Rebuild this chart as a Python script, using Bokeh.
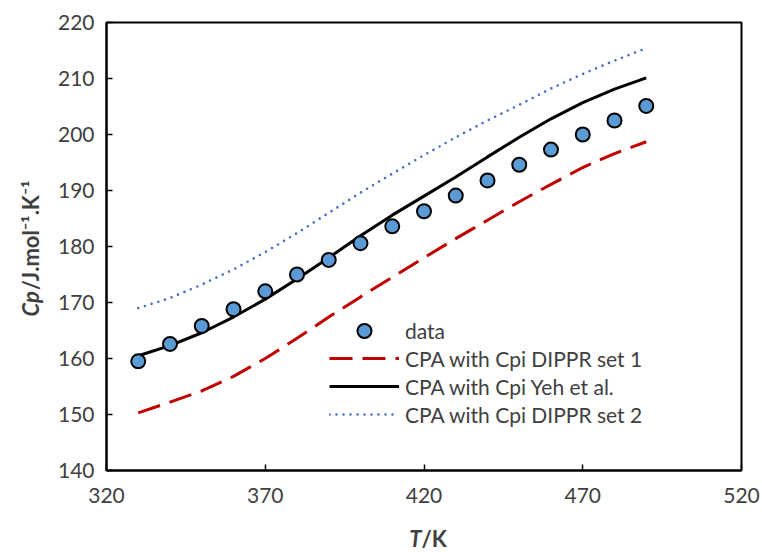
import math
from bokeh.plotting import figure
from bokeh.models import Legend, LegendItem, Label, FixedTicker, Range1d
from bokeh.embed import file_html
from bokeh.resources import INLINE

# Temperatures (K)
T_data = [330, 340, 350, 360, 370, 380, 390, 400, 410, 420, 430, 440, 450, 460, 470, 480, 490]
# Experimental heat capacity (J/mol/K)
cp_data = [159.5, 162.6, 165.8, 168.8, 172.0, 175.0, 177.6, 180.6, 183.6, 186.3,
           189.1, 191.8, 194.6, 197.3, 200.0, 202.5, 205.1]

T_model = [330, 340, 350, 360, 370, 380, 390, 400, 410, 420, 430, 440, 450, 460, 470, 480, 490]
cp_dippr1 = [150.3, 152.2, 154.2, 156.8, 160.0, 163.6, 167.4, 171.0, 174.5, 178.0,
             181.4, 184.7, 188.0, 191.1, 194.1, 196.6, 198.7]
cp_yeh = [160.5, 162.3, 164.6, 167.4, 170.6, 174.2, 178.0, 181.9, 185.6, 189.0,
          192.4, 196.0, 199.5, 202.8, 205.7, 208.1, 210.1]
cp_dippr2 = [169.0, 170.8, 173.2, 175.9, 179.0, 182.4, 186.0, 189.6, 193.0, 196.3,
             199.5, 202.5, 205.3, 208.2, 210.8, 213.2, 215.4]

x_ticks = [320, 370, 420, 470, 520]
y_ticks = [140, 150, 160, 170, 180, 190, 200, 210, 220]

FONT = "Lato"
GREY = "#404040"

p = figure(frame_width=635, frame_height=448,
           min_border_left=105, min_border_right=22, min_border_top=22, min_border_bottom=82,
           x_range=Range1d(320, 520), y_range=Range1d(140, 220),
           output_backend="svg", toolbar_location=None, tools="")

p.background_fill_color = "white"
p.border_fill_color = "white"
p.xgrid.visible = False
p.ygrid.visible = False
p.outline_line_color = "black"
p.outline_line_width = 2
p.outline_line_alpha = 1

for ax in (p.xaxis[0], p.yaxis[0]):
    ax.axis_line_color = "black"
    ax.axis_line_width = 2
    ax.major_tick_in = 6
    ax.major_tick_out = 0
    ax.major_tick_line_color = "black"
    ax.major_tick_line_width = 1.5
    ax.minor_tick_line_color = None
    ax.major_label_text_font = FONT
    ax.major_label_text_font_size = "21px"
    ax.major_label_text_color = GREY

p.xaxis.ticker = FixedTicker(ticks=x_ticks)
p.yaxis.ticker = FixedTicker(ticks=y_ticks)
p.xaxis.major_label_standoff = 17
p.yaxis.major_label_standoff = 12

r_red = p.line(T_model, cp_dippr1, line_color="#C00000", line_width=3, line_dash="23 10")
r_black = p.line(T_model, cp_yeh, line_color="black", line_width=3)
r_blue = p.line(T_model, cp_dippr2, line_color="#4472C4", line_width=2.6,
                line_dash="0 7", line_cap="round")
r_pts = p.scatter(T_data, cp_data, size=14, fill_color="#5B9BD5",
                  line_color="black", line_width=2)


def make_legend(items, loc, row_h):
    lg = Legend(items=items, location=loc)
    lg.border_line_color = None
    lg.background_fill_alpha = 0
    lg.padding = 0
    lg.margin = 0
    lg.spacing = 0
    lg.glyph_width = 70
    lg.glyph_height = row_h
    lg.label_height = row_h
    lg.label_standoff = 6
    lg.label_text_font = FONT
    lg.label_text_font_size = "21px"
    lg.label_text_color = GREY
    p.add_layout(lg, "center")


# the marker row is taller so its legend marker keeps the data marker size
make_legend([LegendItem(label="data", renderers=[r_pts])], (223, 122), 35)
make_legend([
    LegendItem(label="CPA with Cpi DIPPR set 1", renderers=[r_red]),
    LegendItem(label="CPA with Cpi Yeh et al.", renderers=[r_black]),
    LegendItem(label="CPA with Cpi DIPPR set 2", renderers=[r_blue]),
], (223, 42), 28)


# axis titles (italic symbol + upright unit), placed in side panels so the
# frame does not clip them; positions are given in data coordinates
def lab(text, x, y, side, size="22px", style="bold", angle=0.0,
        align="left", baseline="middle"):
    p.add_layout(Label(x=x, y=y, x_units="data", y_units="data", text=text,
                       text_font=FONT, text_font_size=size, text_font_style=style,
                       text_color=GREY, angle=angle, text_align=align,
                       text_baseline=baseline), side)

lab("T", 419.2, 127.9, "right", style="bold italic", align="right")
lab("/K", 419.2, 127.9, "below")

up = math.pi / 2
lab("Cp", 296.1, 169.75, "left", style="bold italic", angle=up, align="center")
lab("/J.mol\u207b\u00b9.K\u207b\u00b9", 296.1, 182.0, "left", angle=up, align="center")

open("out.html", "w").write(file_html(p, INLINE))
